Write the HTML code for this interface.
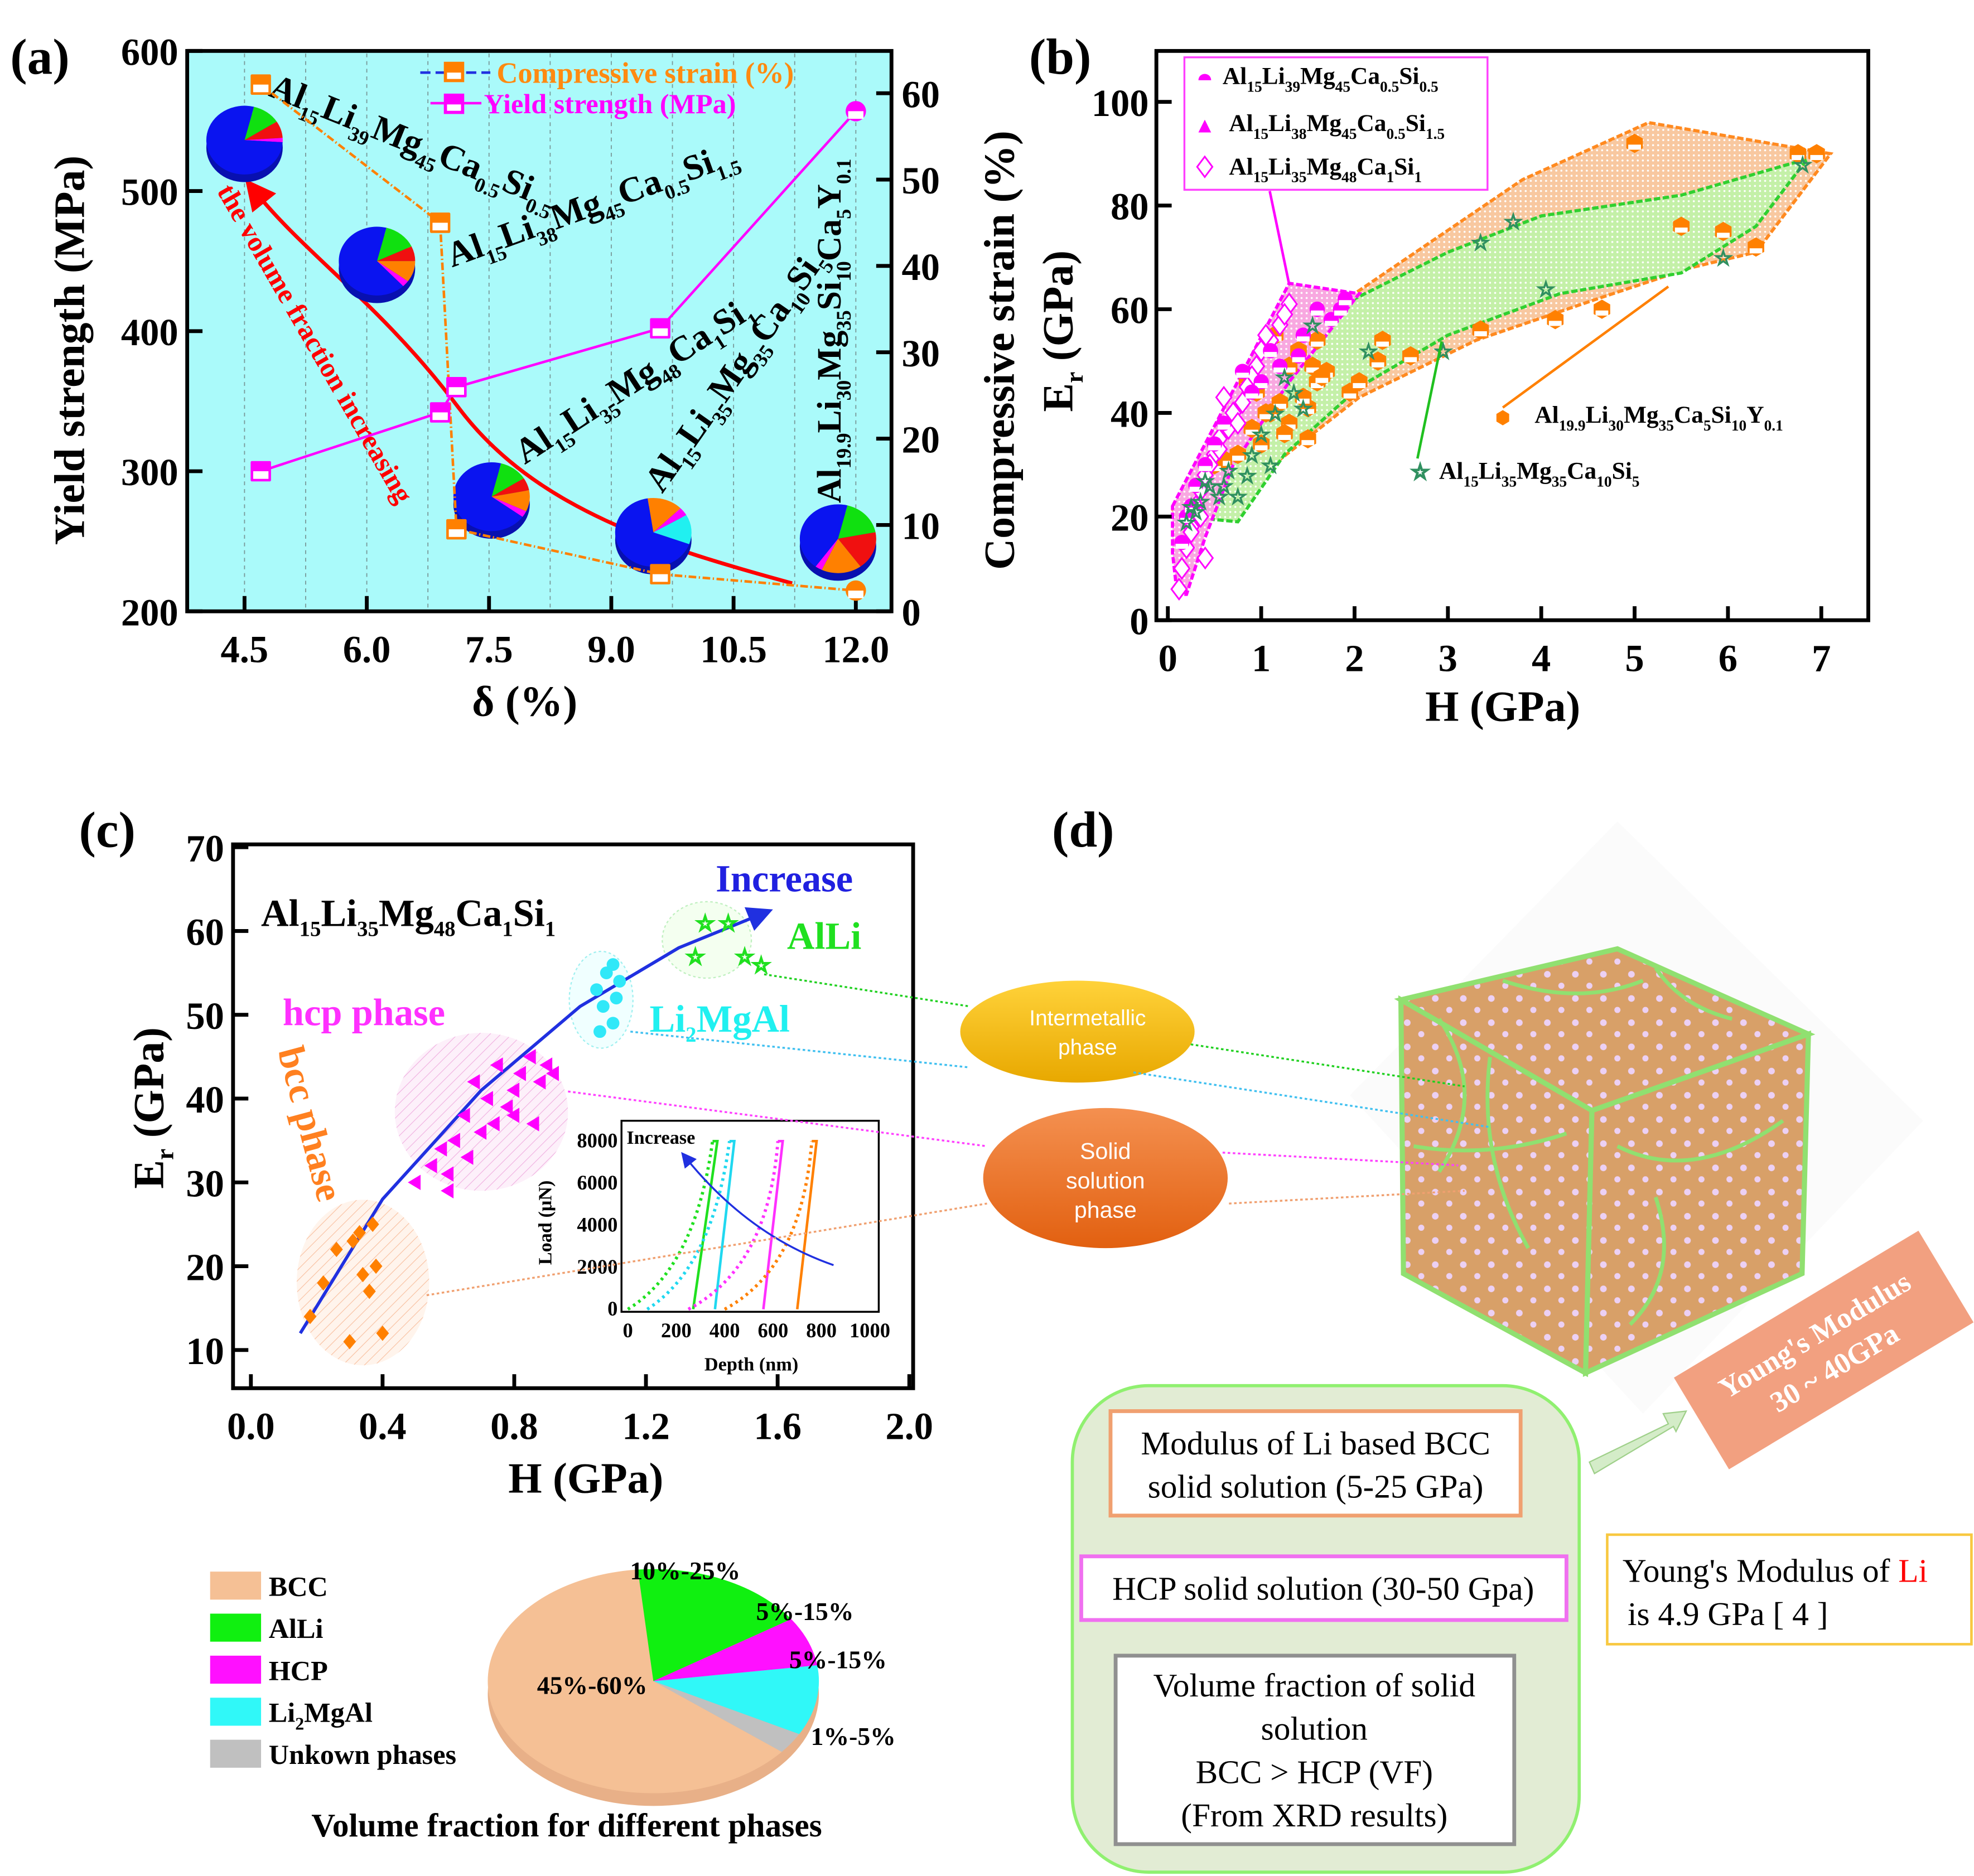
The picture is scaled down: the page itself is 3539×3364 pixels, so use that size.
<!DOCTYPE html>
<html><head><meta charset="utf-8"><style>
html,body{margin:0;padding:0;background:#fff;}
svg{display:block;}
text{font-family:"Liberation Serif",serif;font-weight:bold;}
.sans{font-family:"Liberation Sans",sans-serif;font-weight:normal;}
.reg{font-weight:normal;}
</style></head><body>
<svg id="fig" xmlns="http://www.w3.org/2000/svg" width="3539" height="3364" viewBox="0 0 1550 1473" preserveAspectRatio="none">
<defs>
<pattern id="dotsO" width="4" height="4" patternUnits="userSpaceOnUse"><rect width="4" height="4" fill="#f8c8a0"/><circle cx="2" cy="2" r="0.8" fill="#fff"/></pattern>
<pattern id="dotsG" width="4" height="4" patternUnits="userSpaceOnUse"><rect width="4" height="4" fill="#c4f0a8"/><circle cx="2" cy="2" r="0.8" fill="#fff"/></pattern>
<pattern id="dotsM" width="4" height="4" patternUnits="userSpaceOnUse"><rect width="4" height="4" fill="#f8a8e0"/><circle cx="2" cy="2" r="0.8" fill="#fff"/></pattern>
<pattern id="hatchO" width="6" height="6" patternUnits="userSpaceOnUse" patternTransform="rotate(45)"><rect width="6" height="6" fill="#fff4ec"/><line x1="0" y1="0" x2="0" y2="6" stroke="#f8c0a0" stroke-width="1"/></pattern>
<pattern id="hatchM" width="6" height="6" patternUnits="userSpaceOnUse" patternTransform="rotate(45)"><rect width="6" height="6" fill="#fdf0fa"/><line x1="0" y1="0" x2="0" y2="6" stroke="#f0b0e0" stroke-width="1"/></pattern>
<pattern id="cubeDots" width="22" height="19" patternUnits="userSpaceOnUse"><rect width="22" height="19" fill="#d8a068"/><circle cx="5" cy="5" r="2.6" fill="#ecd0f4"/><circle cx="16" cy="14" r="2.4" fill="#ecd0f4"/></pattern>
<linearGradient id="yel" x1="0" y1="0" x2="0" y2="1"><stop offset="0" stop-color="#ffd23a"/><stop offset="1" stop-color="#e8a800"/></linearGradient>
<linearGradient id="org" x1="0" y1="0" x2="0" y2="1"><stop offset="0" stop-color="#f49050"/><stop offset="1" stop-color="#e26010"/></linearGradient>
<marker id="arrR" markerWidth="8" markerHeight="8" refX="4" refY="4" orient="auto"><path d="M0,0 L8,4 L0,8 z" fill="#f00"/></marker>
<marker id="arrB" markerWidth="8" markerHeight="8" refX="4" refY="4" orient="auto"><path d="M0,0 L8,4 L0,8 z" fill="#2030e0"/></marker>
</defs>

<!-- ============ PANEL A ============ -->
<g>
<text x="8" y="58" font-size="40">(a)</text>
<rect x="147" y="40" width="553" height="440" fill="#aafafa" stroke="#000" stroke-width="3"/>
<g id="aGrid"></g>
<g id="aTicks"></g>
<text transform="translate(66,275) rotate(-90)" text-anchor="middle" font-size="34">Yield strength (MPa)</text>
<text transform="translate(796,275) rotate(-90)" text-anchor="middle" font-size="34">Compressive strain (%)</text>
<text x="412" y="562" text-anchor="middle" font-size="34">δ (%)</text>
<g>
<line x1="330" y1="57" x2="385" y2="57" stroke="#2030e0" stroke-width="2" stroke-dasharray="8,4"/>
<rect x="349" y="49" width="15" height="15" fill="#ff8000" stroke="#ff8000"/><rect x="351" y="57" width="11" height="5" fill="#fff"/>
<text x="390" y="65" font-size="23" fill="#ff8a10">Compressive strain (%)</text>
<line x1="338" y1="81" x2="378" y2="81" stroke="#ff00ff" stroke-width="2"/>
<rect x="349" y="74" width="15" height="15" fill="#ff00ff" stroke="#ff00ff"/><rect x="351" y="82" width="11" height="5" fill="#fff"/>
<text x="380" y="89" font-size="22" fill="#ff00ff">Yield strength (MPa)</text>
</g>
<path d="M622,458 C520,430 420,400 360,320 C300,240 240,200 200,150" fill="none" stroke="#f00" stroke-width="3" marker-end="url(#arrR)"/>
<text transform="translate(170,150) rotate(60)" font-size="22" fill="#f00">the volume fraction increasing</text>
<text transform="translate(210,75) rotate(22)" font-size="28">Al<tspan font-size="16" dy="8">15</tspan><tspan dy="-8">Li</tspan><tspan font-size="16" dy="8">39</tspan><tspan dy="-8">Mg</tspan><tspan font-size="16" dy="8">45</tspan><tspan dy="-8">Ca</tspan><tspan font-size="16" dy="8">0.5</tspan><tspan dy="-8">Si</tspan><tspan font-size="16" dy="8">0.5</tspan></text>
<text transform="translate(355,210) rotate(-20)" font-size="28">Al<tspan font-size="16" dy="8">15</tspan><tspan dy="-8">Li</tspan><tspan font-size="16" dy="8">38</tspan><tspan dy="-8">Mg</tspan><tspan font-size="16" dy="8">45</tspan><tspan dy="-8">Ca</tspan><tspan font-size="16" dy="8">0.5</tspan><tspan dy="-8">Si</tspan><tspan font-size="16" dy="8">1.5</tspan></text>
<text transform="translate(412,365) rotate(-33)" font-size="28">Al<tspan font-size="16" dy="8">15</tspan><tspan dy="-8">Li</tspan><tspan font-size="16" dy="8">35</tspan><tspan dy="-8">Mg</tspan><tspan font-size="16" dy="8">48</tspan><tspan dy="-8">Ca</tspan><tspan font-size="16" dy="8">1</tspan><tspan dy="-8">Si</tspan><tspan font-size="16" dy="8">1</tspan></text>
<text transform="translate(520,388) rotate(-55)" font-size="28">Al<tspan font-size="16" dy="8">15</tspan><tspan dy="-8">Li</tspan><tspan font-size="16" dy="8">35</tspan><tspan dy="-8">Mg</tspan><tspan font-size="16" dy="8">35</tspan><tspan dy="-8">Ca</tspan><tspan font-size="16" dy="8">10</tspan><tspan dy="-8">Si</tspan><tspan font-size="16" dy="8">5</tspan></text>
<text transform="translate(660,395) rotate(-90)" font-size="27">Al<tspan font-size="16" dy="8">19.9</tspan><tspan dy="-8">Li</tspan><tspan font-size="16" dy="8">30</tspan><tspan dy="-8">Mg</tspan><tspan font-size="16" dy="8">35</tspan><tspan dy="-8">Si</tspan><tspan font-size="16" dy="8">10</tspan><tspan dy="-8">Ca</tspan><tspan font-size="16" dy="8">5</tspan><tspan dy="-8">Y</tspan><tspan font-size="16" dy="8">0.1</tspan></text>
<g id="aPies"></g>
<g id="aSeries"></g>
</g>

<!-- ============ PANEL B ============ -->
<g>
<text x="808" y="58" font-size="40">(b)</text>
<rect x="908" y="40" width="559" height="447" fill="#fff" stroke="#000" stroke-width="3"/>
<g id="bRegions"></g>
<g id="bPoints"></g>
<g id="bTicks"></g>
<text transform="translate(842,260) rotate(-90)" text-anchor="middle" font-size="34">E<tspan font-size="20" dy="8">r</tspan><tspan dy="-8"> (GPa)</tspan></text>
<text x="1180" y="566" text-anchor="middle" font-size="34">H (GPa)</text>
<g>
<rect x="930" y="45" width="238" height="104" fill="#fff" stroke="#ff40ff" stroke-width="1.5"/>
<circle cx="946" cy="63" r="5" fill="#ff00ff"/><rect x="940" y="63" width="12" height="6" fill="#fff"/>
<text x="960" y="66" font-size="19">Al<tspan font-size="12" dy="6">15</tspan><tspan dy="-6">Li</tspan><tspan font-size="12" dy="6">39</tspan><tspan dy="-6">Mg</tspan><tspan font-size="12" dy="6">45</tspan><tspan dy="-6">Ca</tspan><tspan font-size="12" dy="6">0.5</tspan><tspan dy="-6">Si</tspan><tspan font-size="12" dy="6">0.5</tspan></text>
<path d="M941,104 L946,94 L951,104 z" fill="#ff00ff"/>
<text x="965" y="103" font-size="19">Al<tspan font-size="12" dy="6">15</tspan><tspan dy="-6">Li</tspan><tspan font-size="12" dy="6">38</tspan><tspan dy="-6">Mg</tspan><tspan font-size="12" dy="6">45</tspan><tspan dy="-6">Ca</tspan><tspan font-size="12" dy="6">0.5</tspan><tspan dy="-6">Si</tspan><tspan font-size="12" dy="6">1.5</tspan></text>
<path d="M946,123 L952,131 L946,139 L940,131 z" fill="none" stroke="#ff00ff" stroke-width="1.3"/>
<text x="965" y="137" font-size="19">Al<tspan font-size="12" dy="6">15</tspan><tspan dy="-6">Li</tspan><tspan font-size="12" dy="6">35</tspan><tspan dy="-6">Mg</tspan><tspan font-size="12" dy="6">48</tspan><tspan dy="-6">Ca</tspan><tspan font-size="12" dy="6">1</tspan><tspan dy="-6">Si</tspan><tspan font-size="12" dy="6">1</tspan></text>
<line x1="997" y1="150" x2="1012" y2="222" stroke="#ff00ff" stroke-width="2"/>
<line x1="1180" y1="320" x2="1310" y2="225" stroke="#ff8000" stroke-width="2"/>
<line x1="1113" y1="360" x2="1132" y2="268" stroke="#20c020" stroke-width="2"/>
<path d="M1180,322 l5,3 v6 l-5,3 l-5,-3 v-6z" fill="#ff8000"/>
<text x="1205" y="332" font-size="19">Al<tspan font-size="12" dy="6">19.9</tspan><tspan dy="-6">Li</tspan><tspan font-size="12" dy="6">30</tspan><tspan dy="-6">Mg</tspan><tspan font-size="12" dy="6">35</tspan><tspan dy="-6">Ca</tspan><tspan font-size="12" dy="6">5</tspan><tspan dy="-6">Si</tspan><tspan font-size="12" dy="6">10</tspan><tspan dy="-6">Y</tspan><tspan font-size="12" dy="6">0.1</tspan></text>
<text x="1108" y="376" font-size="16" fill="none" stroke="#309060">☆</text>
<text x="1130" y="376" font-size="19">Al<tspan font-size="12" dy="6">15</tspan><tspan dy="-6">Li</tspan><tspan font-size="12" dy="6">35</tspan><tspan dy="-6">Mg</tspan><tspan font-size="12" dy="6">35</tspan><tspan dy="-6">Ca</tspan><tspan font-size="12" dy="6">10</tspan><tspan dy="-6">Si</tspan><tspan font-size="12" dy="6">5</tspan></text>
</g>
</g>

<!-- ============ PANEL C ============ -->
<g>
<text x="62" y="665" font-size="40">(c)</text>
<ellipse cx="285" cy="1007" rx="52" ry="65" fill="url(#hatchO)"/>
<ellipse cx="378" cy="873" rx="68" ry="62" fill="url(#hatchM)"/>
<ellipse cx="472" cy="785" rx="25" ry="38" fill="#f0ffff" stroke="#a0f0f0" stroke-dasharray="2,2"/>
<ellipse cx="555" cy="738" rx="35" ry="30" fill="#f4fff0" stroke="#c0f0c0" stroke-dasharray="2,2"/>
<rect x="183" y="663" width="534" height="427" fill="none" stroke="#000" stroke-width="3"/>
<g id="cTicks"></g>
<g id="cPoints"></g>
<text transform="translate(128,870) rotate(-90)" text-anchor="middle" font-size="34">E<tspan font-size="20" dy="8">r</tspan><tspan dy="-8"> (GPa)</tspan></text>
<text x="460" y="1172" text-anchor="middle" font-size="34">H (GPa)</text>
<text x="205" y="727" font-size="30">Al<tspan font-size="17" dy="8">15</tspan><tspan dy="-8">Li</tspan><tspan font-size="17" dy="8">35</tspan><tspan dy="-8">Mg</tspan><tspan font-size="17" dy="8">48</tspan><tspan dy="-8">Ca</tspan><tspan font-size="17" dy="8">1</tspan><tspan dy="-8">Si</tspan><tspan font-size="17" dy="8">1</tspan></text>
<text x="562" y="700" font-size="30" fill="#2020e0">Increase</text>
<text x="618" y="745" font-size="30" fill="#20e020">AlLi</text>
<text x="510" y="810" font-size="30" fill="#20f0f0">Li<tspan font-size="17" dy="8">2</tspan><tspan dy="-8">MgAl</tspan></text>
<text x="222" y="805" font-size="30" fill="#ff30ff">hcp phase</text>
<text transform="translate(218,825) rotate(75)" font-size="30" fill="#ff8020">bcc phase</text>
<g>
<rect x="488" y="880" width="202" height="150" fill="#fff" stroke="#000" stroke-width="1.5"/>
<g id="inset"></g>
<text transform="translate(433,960) rotate(-90)" text-anchor="middle" font-size="15">Load (μN)</text>
<text x="590" y="1076" text-anchor="middle" font-size="15">Depth (nm)</text>
<text x="492" y="898" font-size="15">Increase</text>
</g>
<g>
<g id="cPie"></g>
<text x="445" y="1442" text-anchor="middle" font-size="26">Volume fraction for different phases</text>
</g>
</g>

<!-- ============ PANEL D ============ -->
<g>
<text x="826" y="665" font-size="40">(d)</text>
<polygon points="1060,860 1270,645 1510,880 1290,1110" fill="#f7f7f7" opacity="0.5"/>
<g>
<polygon points="1100,785 1270,745 1420,812 1250,872" fill="url(#cubeDots)" stroke="#90e070" stroke-width="4"/>
<polygon points="1100,785 1250,872 1245,1078 1102,1000" fill="url(#cubeDots)" stroke="#90e070" stroke-width="4"/>
<polygon points="1250,872 1420,812 1415,1000 1245,1078" fill="url(#cubeDots)" stroke="#90e070" stroke-width="4"/>
<path d="M1130,800 q40,60 0,120 M1170,830 q-10,80 30,150 M1110,900 q60,10 120,-10 M1270,900 q60,30 130,-20 M1300,940 q20,60 -20,100 M1180,770 q60,20 110,0 M1300,760 q20,30 60,40" fill="none" stroke="#90e070" stroke-width="3"/>
</g>
<ellipse cx="846" cy="810" rx="92" ry="40" fill="url(#yel)"/>
<text x="854" y="805" text-anchor="middle" class="sans" font-size="17" fill="#fff">Intermetallic</text>
<text x="854" y="828" text-anchor="middle" class="sans" font-size="17" fill="#fff">phase</text>
<ellipse cx="868" cy="925" rx="96" ry="55" fill="url(#org)"/>
<text x="868" y="910" text-anchor="middle" class="sans" font-size="18" fill="#fff">Solid</text>
<text x="868" y="933" text-anchor="middle" class="sans" font-size="18" fill="#fff">solution</text>
<text x="868" y="956" text-anchor="middle" class="sans" font-size="18" fill="#fff">phase</text>
<g fill="none" stroke-width="1.5" stroke-dasharray="2,2">
<path d="M600,765 L760,790 M935,820 L1150,853" stroke="#20d020"/>
<path d="M495,810 L760,838 M890,842 L1170,885" stroke="#40c0f0"/>
<path d="M446,857 L775,900 M960,905 L1145,915" stroke="#ff40ff"/>
<path d="M335,1017 L775,945 M965,945 L1150,935" stroke="#f0a070"/>
</g>
<g transform="translate(1432,1060) rotate(-31)">
<rect x="-112" y="-42" width="224" height="84" fill="#f2a080"/>
<text x="0" y="-6" text-anchor="middle" font-size="23" fill="#fff">Young's Modulus</text>
<text x="0" y="24" text-anchor="middle" font-size="23" fill="#fff">30 ~ 40GPa</text>
</g>
<polygon points="1248,1148 1310,1118 1306,1110 1324,1108 1316,1124 1314,1120 1252,1157" fill="#d4ecc8" stroke="#9fd08a"/>
<rect x="842" y="1088" width="398" height="382" rx="60" fill="#e2ecd4" stroke="#90f070" stroke-width="2.5"/>
<rect x="872" y="1108" width="322" height="82" fill="#fff" stroke="#f0a070" stroke-width="3"/>
<text x="1033" y="1142" text-anchor="middle" class="reg" font-size="26">Modulus of Li based BCC</text>
<text x="1033" y="1176" text-anchor="middle" class="reg" font-size="26">solid solution (5-25 GPa)</text>
<rect x="849" y="1222" width="381" height="50" fill="#fff" stroke="#f070f0" stroke-width="3"/>
<text x="1039" y="1256" text-anchor="middle" class="reg" font-size="26">HCP solid solution (30-50 Gpa)</text>
<rect x="876" y="1300" width="313" height="148" fill="#fff" stroke="#909090" stroke-width="3"/>
<text x="1032" y="1332" text-anchor="middle" class="reg" font-size="26">Volume fraction of solid</text>
<text x="1032" y="1366" text-anchor="middle" class="reg" font-size="26">solution</text>
<text x="1032" y="1400" text-anchor="middle" class="reg" font-size="26">BCC &gt; HCP (VF)</text>
<text x="1032" y="1434" text-anchor="middle" class="reg" font-size="26">(From XRD results)</text>
<rect x="1262" y="1205" width="286" height="86" fill="#fff" stroke="#f8c840" stroke-width="2"/>
<text x="1274" y="1242" class="reg" font-size="26">Young's Modulus of <tspan fill="#f00">Li</tspan></text>
<text x="1278" y="1276" class="reg" font-size="26">is 4.9 GPa [ 4 ]</text>
</g>
</svg>

<script>
// ---- Panel (a) data ----
const aDelta = [4.7, 6.9, 7.1, 9.6, 12.0];
const aYield = [300, 342, 360, 402, 557];
const aStrain = [61, 45, 9.5, 4.3, 2.4];
const aXTicks = [4.5, 6.0, 7.5, 9.0, 10.5, 12.0];
const aYTicks = [200, 300, 400, 500, 600];
const aY2Ticks = [0, 10, 20, 30, 40, 50, 60];
// ---- Panel (b) data ----
const bXTicks = [0,1,2,3,4,5,6,7];
const bYTicks = [0,20,40,60,80,100];
const bOrangeH = [5.0,6.75,6.95,5.5,5.95,6.3,4.65,4.15,3.35,2.6,2.3,2.25,1.95,2.05,1.7,1.6,1.5,1.45,1.3,1.25,1.2,1.1,1.0,0.95,0.85,0.75,0.6,0.5,1.55,1.65,1.4,1.3,1.15,1.05,0.9,1.5,1.6];
const bOrangeE = [92,90,90,76,75,72,60,58,56,51,54,50,44,46,48,46,41,43,38,36,42,40,34,44,46,32,31,30,49,47,52,49,55,40,37,35,54];
const bStarH = [6.8,5.95,3.7,3.35,4.05,2.95,2.15,1.55,1.35,1.25,1.15,1.0,0.85,0.75,0.65,0.55,0.45,0.35,0.3,0.25,0.2,1.45,1.1,0.9,0.6,0.4];
const bStarE = [88,70,77,73,64,52,52,57,44,47,40,36,28,24,29,24,26,23,21,22,19,41,30,32,26,27];
const bDiaH = [1.3,1.2,1.1,1.0,0.95,0.9,0.85,0.8,0.7,0.65,0.6,0.55,0.5,0.45,0.4,0.35,0.3,0.25,0.2,0.15,0.12,1.25,1.05,0.75,0.55,0.35,0.25,0.4];
const bDiaE = [61,57,54,52,49,47,45,42,40,37,43,35,32,30,28,25,22,18,14,10,6,59,55,38,33,20,17,12];
const bMagH = [1.6,1.45,1.4,1.2,1.1,1.0,0.9,0.8,0.6,0.4,0.3,0.2,0.15,1.75,1.85,1.9,0.5,0.25];
const bMagE = [60,55,51,49,52,46,44,48,38,30,26,20,15,58,60,62,34,22];
// ---- Panel (c) data ----
const cXTicks = [0.0,0.4,0.8,1.2,1.6,2.0];
const cYTicks = [10,20,30,40,50,60,70];
const cBccH = [0.18,0.22,0.26,0.30,0.33,0.34,0.36,0.38,0.40,0.37,0.31];
const cBccE = [14,18,22,11,24,19,17,20,12,25,23];
const cHcpH = [0.50,0.55,0.58,0.60,0.62,0.65,0.68,0.70,0.72,0.75,0.78,0.80,0.82,0.85,0.88,0.90,0.60,0.66,0.74,0.80,0.86,0.92];
const cHcpE = [30,32,34,31,35,38,42,36,40,44,39,41,43,45,42,44,29,33,37,38,37,43];
const cLiH = [1.05,1.08,1.10,1.12,1.07,1.10,1.06,1.11];
const cLiE = [53,55,56,54,51,49,48,52];
const cAlLiH = [1.35,1.38,1.45,1.50,1.55];
const cAlLiE = [57,61,61,57,56];
const cFitH = [0.15,0.4,0.7,1.0,1.3,1.55];
const cFitE = [12,28,41,51,58,62];
const pieLabels = ["BCC","AlLi","HCP","Li2MgAl","Unkown phases"];
const pieValues = [62,17,7,10,3];
const pieText = ["45%-60%","10%-25%","5%-15%","5%-15%","1%-5%"];
const pieColors = ["#f5c095","#10f010","#ff10ff","#30f8f8","#c0c0c0"];
// ---- inset ----
const insetXTicks = [0,200,400,600,800,1000];
const insetYTicks = [0,2000,4000,6000,8000];

const NS = "http://www.w3.org/2000/svg";
function mk(tag, parent){ const e=document.createElementNS(NS,tag); parent.appendChild(e); return e; }
function T(parent,x,y,s,fs,anchor){ const t=mk('text',parent); t.setAttribute('x',x); t.setAttribute('y',y); t.setAttribute('font-size',fs); t.setAttribute('text-anchor',anchor||'middle'); t.textContent=s; return t; }

// ===== Panel A =====
const ax = v => 192 + (v-4.5)*64;
const ayL = v => 480 - (v-200)*1.1;
const ayR = v => 480 - v*6.78;
(function(){
 const g=document.getElementById('aGrid'), t=document.getElementById('aTicks');
 for(let v=4.5; v<=12.01; v+=0.75){ const l=mk('line',g); l.setAttribute('x1',ax(v)); l.setAttribute('x2',ax(v)); l.setAttribute('y1',42); l.setAttribute('y2',478); l.setAttribute('stroke','#7a9a9a'); l.setAttribute('stroke-dasharray','3,3'); l.setAttribute('stroke-width','0.8');
    }
 aXTicks.forEach(v=>{ const l=mk('line',t); l.setAttribute('x1',ax(v)); l.setAttribute('x2',ax(v)); l.setAttribute('y1',480); l.setAttribute('y2',468); l.setAttribute('stroke','#000'); l.setAttribute('stroke-width',3);
  const s=T(t,ax(v),520,v.toFixed(1),30);   });
 aYTicks.forEach(v=>{ const l=mk('line',t); l.setAttribute('x1',147); l.setAttribute('x2',159); l.setAttribute('y1',ayL(v)); l.setAttribute('y2',ayL(v)); l.setAttribute('stroke','#000'); l.setAttribute('stroke-width',3);
  const s=T(t,140,ayL(v)+11,String(v),30,'end');   });
 aY2Ticks.forEach(v=>{ const l=mk('line',t); l.setAttribute('x1',688); l.setAttribute('x2',700); l.setAttribute('y1',ayR(v)); l.setAttribute('y2',ayR(v)); l.setAttribute('stroke','#000'); l.setAttribute('stroke-width',3);
  const s=T(t,708,ayR(v)+11,String(v),30,'start');   });
 const sg=document.getElementById('aSeries');
 const p1=mk('polyline',sg); p1.setAttribute('points',aDelta.map((d,i)=>ax(d)+','+ayR(aStrain[i])).join(' ')); p1.setAttribute('fill','none'); p1.setAttribute('stroke','#ff8000'); p1.setAttribute('stroke-width',2); p1.setAttribute('stroke-dasharray','6,2,1,2');
  
 const p2=mk('polyline',sg); p2.setAttribute('points',aDelta.map((d,i)=>ax(d)+','+ayL(aYield[i])).join(' ')); p2.setAttribute('fill','none'); p2.setAttribute('stroke','#ff00ff'); p2.setAttribute('stroke-width',2);
  
 aDelta.forEach((d,i)=>{
  [[ayR(aStrain[i]),'#ff8000','strain-point'],[ayL(aYield[i]),'#ff00ff','yield-point']].forEach(([y,c,n])=>{
   const m=mk('rect',sg); m.setAttribute('x',ax(d)-8); m.setAttribute('y',y-8); m.setAttribute('width',16); m.setAttribute('height',16); m.setAttribute('fill',c); m.setAttribute('rx',i==4?8:1);
    
   const w=mk('rect',sg); w.setAttribute('x',ax(d)-6); w.setAttribute('y',y); w.setAttribute('width',12); w.setAttribute('height',6); w.setAttribute('fill','#fff');
  });
 });
 // pies: fractions in order green, red, orange, magenta, cyan, blue
 const pg=document.getElementById('aPies');
 const pies=[[192,110,[0.12,0.08,0,0.02,0,0.78]],[296,205,[0.14,0.07,0.1,0.03,0,0.66]],[386,390,[0.12,0.06,0.1,0.03,0,0.69]],[513,418,[0,0,0.15,0.04,0.14,0.67]],[658,423,[0.18,0.18,0.17,0.03,0,0.44]]];
 const cols=['#10e010','#f01010','#ff8000','#ff00ff','#20f0f0','#0a14f0'];
 pies.forEach(([cx,cy,fr],k)=>{
  const r=30, ry=27; let a=-Math.PI/2+0.25;
  if(k==3){ a=-Math.PI/2-0.15; }
  const sh=mk('ellipse',pg); sh.setAttribute('cx',cx); sh.setAttribute('cy',cy+6); sh.setAttribute('rx',r); sh.setAttribute('ry',ry); sh.setAttribute('fill','#0810b0');
  fr.forEach((f,j)=>{ if(f<=0) return; const b=a+f*2*Math.PI; const p=mk('path',pg);
   p.setAttribute('d',`M${cx},${cy} L${cx+r*Math.cos(a)},${cy+ry*Math.sin(a)} A${r},${ry} 0 ${f>0.5?1:0} 1 ${cx+r*Math.cos(b)},${cy+ry*Math.sin(b)} z`);
   p.setAttribute('fill',cols[j]); a=b;
     });
 });
})();

// ===== Panel B =====
const bx = v => 917 + v*73.3;
const by = v => 487 - v*4.07;
(function(){
 const rg=document.getElementById('bRegions');
 const poly=(pts,fill,stroke,name)=>{ const p=mk('polygon',rg); p.setAttribute('points',pts.map(q=>bx(q[0])+','+by(q[1])).join(' ')); p.setAttribute('fill',fill); p.setAttribute('stroke',stroke); p.setAttribute('stroke-width',2.5); p.setAttribute('stroke-dasharray','5,2');
    };
 poly([[0.05,21],[1.2,31],[2.05,43],[3.3,54],[4.6,62],[5.6,68],[6.3,71],[7.1,90],[5.15,96],[3.8,85],[2.0,63],[1.3,52],[0.7,36],[0.3,26]],'url(#dotsO)','#ff8a20','orange-region');
 poly([[0.15,20],[0.75,19],[1.25,32],[2.05,45],[3.0,55],[4.2,63],[5.5,67],[6.3,76],[6.85,89],[5.5,82],[4.0,78],[3.0,71],[2.0,62],[1.1,47],[0.5,30]],'url(#dotsG)','#30d030','green-region');
 poly([[0.05,22],[1.3,65],[2.05,63],[1.3,46],[0.7,30],[0.4,16],[0.2,5],[0.1,5],[0.05,13]],'url(#dotsM)','#ff00ff','magenta-region');
 const pg=document.getElementById('bPoints');
 bOrangeH.forEach((h,i)=>{ const x=bx(h), y=by(bOrangeE[i]); const p=mk('path',pg); p.setAttribute('d',`M${x},${y-7} l6,3.5 v7 l-6,3.5 l-6,-3.5 v-7z`); p.setAttribute('fill','#ff8000'); p.setAttribute('stroke','#ff8000');
   
  const w=mk('rect',pg); w.setAttribute('x',x-5); w.setAttribute('y',y+1); w.setAttribute('width',10); w.setAttribute('height',4); w.setAttribute('fill','#fff'); });
 bDiaH.forEach((h,i)=>{ const x=bx(h), y=by(bDiaE[i]); const p=mk('path',pg); p.setAttribute('d',`M${x},${y-8} l6,8 l-6,8 l-6,-8z`); p.setAttribute('fill','#fff'); p.setAttribute('stroke','#ff00ff'); p.setAttribute('stroke-width',1.3);
    });
 bMagH.forEach((h,i)=>{ const x=bx(h), y=by(bMagE[i]); const c=mk('circle',pg); c.setAttribute('cx',x); c.setAttribute('cy',y); c.setAttribute('r',6); c.setAttribute('fill','#ff00ff');
   
  const w=mk('rect',pg); w.setAttribute('x',x-5); w.setAttribute('y',y+1); w.setAttribute('width',10); w.setAttribute('height',4); w.setAttribute('fill','#fff'); });
 bStarH.forEach((h,i)=>{ const t=T(pg,bx(h),by(bStarE[i])+6,'☆',16); t.setAttribute('fill','#fff'); t.setAttribute('stroke','#309060'); t.setAttribute('stroke-width',0.6);
    });
 const tg=document.getElementById('bTicks');
 bXTicks.forEach(v=>{ const l=mk('line',tg); l.setAttribute('x1',bx(v)); l.setAttribute('x2',bx(v)); l.setAttribute('y1',487); l.setAttribute('y2',476); l.setAttribute('stroke','#000'); l.setAttribute('stroke-width',3);
  const s=T(tg,bx(v),527,String(v),30);   });
 bYTicks.forEach(v=>{ const l=mk('line',tg); l.setAttribute('x1',908); l.setAttribute('x2',920); l.setAttribute('y1',by(v)); l.setAttribute('y2',by(v)); l.setAttribute('stroke','#000'); l.setAttribute('stroke-width',3);
  const s=T(tg,902,by(v)+11,String(v),30,'end');   });
})();

// ===== Panel C =====
const cx_ = v => 197 + v*258.5;
const cy_ = v => 1060 - (v-10)*6.58;
(function(){
 const tg=document.getElementById('cTicks');
 cXTicks.forEach(v=>{ const l=mk('line',tg); l.setAttribute('x1',cx_(v)); l.setAttribute('x2',cx_(v)); l.setAttribute('y1',1090); l.setAttribute('y2',1079); l.setAttribute('stroke','#000'); l.setAttribute('stroke-width',3);
  const s=T(tg,cx_(v),1130,v.toFixed(1),30);   });
 cYTicks.forEach(v=>{ const l=mk('line',tg); l.setAttribute('x1',183); l.setAttribute('x2',195); l.setAttribute('y1',cy_(v)); l.setAttribute('y2',cy_(v)); l.setAttribute('stroke','#000'); l.setAttribute('stroke-width',3);
  const s=T(tg,176,cy_(v)+11,String(v),30,'end');   });
 const pg=document.getElementById('cPoints');
 let d='M'+cx_(cFitH[0])+','+cy_(cFitE[0]);
 for(let i=1;i<cFitH.length;i++) d+=' L'+cx_(cFitH[i])+','+cy_(cFitE[i]);
 const fit=mk('path',pg); fit.setAttribute('d',d); fit.setAttribute('fill','none'); fit.setAttribute('stroke','#2030e0'); fit.setAttribute('stroke-width',2.5); fit.setAttribute('stroke-linejoin','round'); fit.setAttribute('marker-end','url(#arrB)');
  
 cBccH.forEach((h,i)=>{ const x=cx_(h),y=cy_(cBccE[i]); const p=mk('path',pg); p.setAttribute('d',`M${x},${y-6} l5,6 l-5,6 l-5,-6z`); p.setAttribute('fill','#ff8000');
    });
 cHcpH.forEach((h,i)=>{ const x=cx_(h),y=cy_(cHcpE[i]); const p=mk('path',pg); p.setAttribute('d',`M${x-6},${y} l10,-6 v12z`); p.setAttribute('fill','#ff00ff');
    });
 cLiH.forEach((h,i)=>{ const c=mk('circle',pg); c.setAttribute('cx',cx_(h)); c.setAttribute('cy',cy_(cLiE[i])); c.setAttribute('r',5); c.setAttribute('fill','#30e8f8');
    });
 cAlLiH.forEach((h,i)=>{ const t=T(pg,cx_(h),cy_(cAlLiE[i])+6,'☆',16); t.setAttribute('fill','#20e020'); t.setAttribute('stroke','#20e020');
    });
 // inset
 const ig=document.getElementById('inset');
 const ix=v=>493+v*0.19, iy=v=>1028-v*0.0165;
 insetXTicks.forEach(v=>{ T(ig,ix(v),1050,String(v),16); });
 insetYTicks.forEach(v=>{ T(ig,485,iy(v)+5,String(v),16,'end'); });
 const crv=[[0,280,350,230],[80,350,420,320],[250,580,620,520],[400,720,760,660]];
 crv.forEach((c,k)=>{ const col=['#20e020','#20d8f0','#ff30ff','#ff8000'][k];
  const a=mk('path',ig); a.setAttribute('d',`M${ix(c[0])},${iy(0)} Q${ix(c[1])},${iy(2000)} ${ix(c[2])},${iy(8000)}`); a.setAttribute('fill','none'); a.setAttribute('stroke',col); a.setAttribute('stroke-width',2.5); a.setAttribute('stroke-dasharray','2,3');
  const b=mk('path',ig); b.setAttribute('d',`M${ix(c[2])},${iy(8000)} L${ix(c[2]+20)},${iy(8000)} L${ix(c[3]+40)},${iy(0)}`); b.setAttribute('fill','none'); b.setAttribute('stroke',col); b.setAttribute('stroke-width',2);
    });
 const ar=mk('path',ig); ar.setAttribute('d',`M${ix(850)},${iy(2100)} Q${ix(500)},${iy(3500)} ${ix(240)},${iy(7200)}`); ar.setAttribute('fill','none'); ar.setAttribute('stroke','#2030e0'); ar.setAttribute('stroke-width',1.5); ar.setAttribute('marker-end','url(#arrB)');
 // pie: draw AlLi, HCP, Li2MgAl, Unknown, then BCC clockwise starting near top
 const cp=document.getElementById('cPie');
 const tot=pieValues.reduce((a,b)=>a+b,0);
 const pcx=513,pcy=1320,rx=130,ry=88;
 const side=mk('ellipse',cp); side.setAttribute('cx',pcx); side.setAttribute('cy',pcy+10); side.setAttribute('rx',rx); side.setAttribute('ry',ry); side.setAttribute('fill','#e8b088');
 let a=-Math.PI*0.53;
 [1,2,3,4,0].forEach(i=>{ const v=pieValues[i]; const b=a+v/tot*2*Math.PI; const p=mk('path',cp);
  p.setAttribute('d',`M${pcx},${pcy} L${pcx+rx*Math.cos(a)},${pcy+ry*Math.sin(a)} A${rx},${ry} 0 ${v/tot>0.5?1:0} 1 ${pcx+rx*Math.cos(b)},${pcy+ry*Math.sin(b)} z`);
  p.setAttribute('fill',pieColors[i]);
   
  a=b; });
 const pos=[[465,1330],[538,1240],[632,1272],[658,1310],[670,1370]];
 pieText.forEach((s,i)=>{ T(cp,pos[i][0],pos[i][1],s,20); });
 pieLabels.forEach((s,i)=>{ const r=mk('rect',cp); r.setAttribute('x',165); r.setAttribute('y',1234+i*33); r.setAttribute('width',40); r.setAttribute('height',22); r.setAttribute('fill',pieColors[i]);
   
  const t=T(cp,211,1253+i*33,'',22,'start');
  if(s==='Li2MgAl'){ t.innerHTML='Li<tspan font-size="14" dy="6">2</tspan><tspan dy="-6">MgAl</tspan>'; } else { t.textContent=s; }
    });
})();
</script>
</body></html>
